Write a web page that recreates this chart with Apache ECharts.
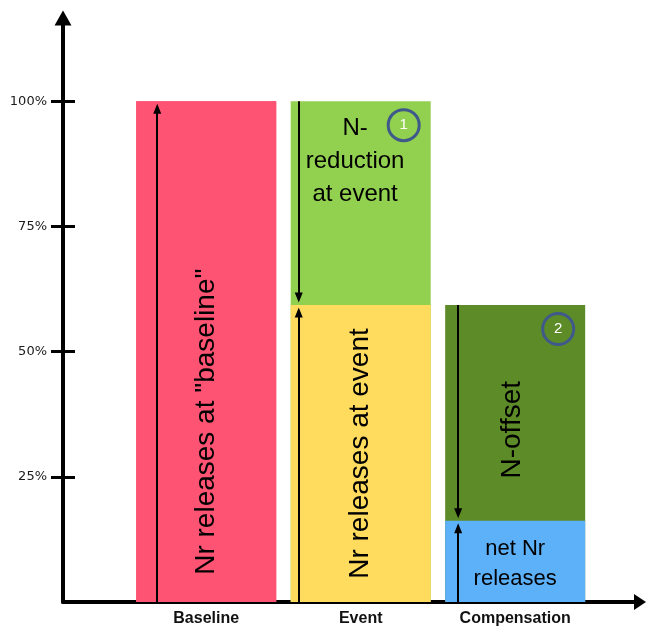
<!DOCTYPE html>
<html>
<head>
<meta charset="utf-8">
<script src="https://cdn.jsdelivr.net/npm/echarts@6/dist/echarts.min.js"></script>
<style>
html,body{margin:0;padding:0;background:#fff;}
#c{width:649px;height:630px;}
</style>
</head>
<body>
<div id="c"></div>
<script>
// ---- data ----
const categories = ['Baseline', 'Event', 'Compensation'];
const categoryPos = [1, 2, 3];
const lowerValues = [100, 59.3, 16.2];
const upperValues = [0, 40.7, 43.1];
const yTicks = [25, 50, 75, 100];
const lowerTexts = ['Nr releases at "baseline"', 'Nr releases at event', 'net Nr\nreleases'];
const upperTexts = ['', 'N-\nreduction\nat event', 'N-offset'];
const badges = ['', '1', '2'];

// ---- style ----
const lowerColors = ['#FF5373', '#FFDB5E', '#5DB1F8'];
const upperColors = ['#FF5373', '#92D050', '#5C8B27'];
const arrowShift = [-0.317, -0.401, -0.369];
const arrowGap = 1.5;
const FONT = 'Liberation Sans';

const chart = echarts.init(document.getElementById('c'), null, {renderer: 'canvas'});

const lowerLabelCfg = [
  {rotate: 90, position: ['50%', '64%'], fontSize: 28},
  {rotate: 90, position: ['50%', '50%'], fontSize: 28},
  {rotate: 0, position: ['50%', '53%'], fontSize: 22, lineHeight: 30}
];
// positions relative to the full (total-height) bar
const upperLabelCfg = [
  {rotate: 0, position: ['50%', '50%'], fontSize: 24},
  {rotate: 0, position: ['46%', '12%'], fontSize: 24, lineHeight: 33},
  {rotate: 90, position: ['48%', '42%'], fontSize: 28}
];

function mkLabel(text, cfg) {
  return {
    show: text !== '',
    formatter: text,
    rotate: cfg.rotate,
    position: cfg.position,
    align: 'center',
    verticalAlign: 'middle',
    fontFamily: FONT,
    fontSize: cfg.fontSize,
    lineHeight: cfg.lineHeight || cfg.fontSize * 1.2,
    color: '#000'
  };
}

const totals = lowerValues.map((v, i) => v + upperValues[i]);

const lowerData = categoryPos.map((x, i) => ({
  value: [x, lowerValues[i]],
  itemStyle: {color: lowerColors[i]},
  label: mkLabel(lowerTexts[i], lowerLabelCfg[i])
}));
const upperData = categoryPos.map((x, i) => ({
  value: [x, totals[i]],
  itemStyle: {color: upperColors[i]},
  label: mkLabel(upperTexts[i], upperLabelCfg[i])
}));

// arrows inside the bars
const arrowLines = [];
categoryPos.forEach((x, i) => {
  const ax = x + arrowShift[i];
  const low = lowerValues[i];
  arrowLines.push([{coord: [ax, 0]}, {coord: [ax, low - arrowGap]}]);
  if (upperValues[i] > 0) {
    arrowLines.push([{coord: [ax, totals[i]]}, {coord: [ax, low + arrowGap]}]);
  }
});

const badgePoints = [];
categoryPos.forEach((x, i) => {
  if (badges[i]) {
    badgePoints.push({coord: [x, totals[i]], name: badges[i], value: i});
  }
});

const option = {
  animation: false,
  grid: {left: 63, right: 9, top: 18, bottom: 28},
  xAxis: {
    type: 'value',
    min: 0.073,
    max: 3.808,
    splitLine: {show: false},
    axisLine: {
      show: true,
      lineStyle: {color: '#000', width: 4},
      symbol: ['none', 'triangle'],
      symbolSize: [16, 12]
    },
    axisTick: {show: false},
    axisLabel: {
      customValues: categoryPos,
      formatter: v => categories[Math.round(v) - 1] || '',
      fontFamily: FONT,
      fontWeight: 'bold',
      fontSize: 16,
      color: '#111',
      margin: 9
    }
  },
  yAxis: [{
    type: 'value',
    position: 'left',
    min: 0,
    max: 116.6,
    splitLine: {show: false},
    axisLine: {
      show: true,
      lineStyle: {color: '#000', width: 4},
      symbol: ['none', 'triangle'],
      symbolSize: [17, 15]
    },
    axisTick: {show: true, customValues: yTicks, length: 12, lineStyle: {color: '#000', width: 3}},
    axisLabel: {
      customValues: yTicks,
      formatter: v => v + '%',
      fontFamily: 'DejaVu Sans',
      fontSize: 13,
      color: '#1a1a1a',
      margin: 16
    }
  }, {
    type: 'value',
    position: 'left',
    offset: -12,
    min: 0,
    max: 116.6,
    splitLine: {show: false},
    axisLine: {show: false},
    axisTick: {show: true, customValues: yTicks, length: 12, lineStyle: {color: '#000', width: 3}},
    axisLabel: {show: false}
  }],
  series: [{
    name: 'total',
    type: 'bar',
    barWidth: 140,
    barGap: '-100%',
    data: upperData,
    markPoint: {
      silent: true,
      symbol: 'circle',
      symbolSize: 31,
      symbolOffset: [43, 24],
      itemStyle: {color: 'rgba(0,0,0,0)', borderColor: '#3F5A8A', borderWidth: 3},
      label: {show: true, position: 'inside', color: '#fff', fontFamily: FONT, fontSize: 15, formatter: '{b}'},
      data: badgePoints
    }
  }, {
    name: 'lower',
    type: 'bar',
    barWidth: 140,
    barGap: '-100%',
    data: lowerData,
    markLine: {
      silent: true,
      symbol: ['none', 'triangle'],
      symbolSize: [8, 10],
      label: {show: false},
      lineStyle: {color: '#000', width: 2, type: 'solid'},
      data: arrowLines
    }
  }]
};
chart.setOption(option);
</script>
</body>
</html>
